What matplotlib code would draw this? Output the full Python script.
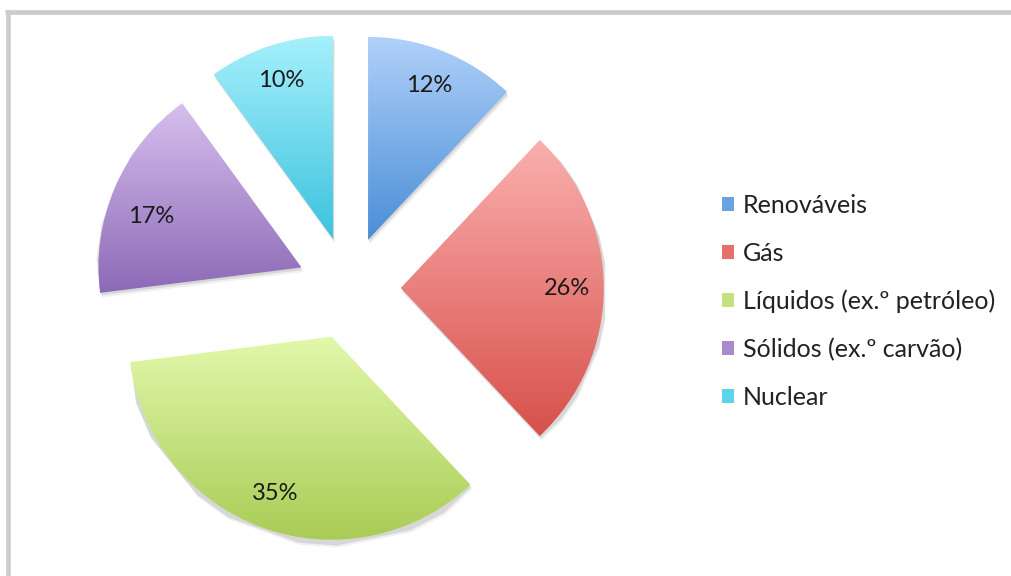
import matplotlib
matplotlib.use('Agg')
import matplotlib.pyplot as plt
import matplotlib.colors as mcolors
from matplotlib.lines import Line2D
from matplotlib.patches import Patch
import numpy as np

# data
categories = ['Renováveis', 'Gás', 'Líquidos (ex.º petróleo)', 'Sólidos (ex.º carvão)', 'Nuclear']
shares = [12, 26, 35, 17, 10]

# gradient colours for each slice (top -> bottom)
grad_top = ['#b0d1f9', '#fab0ae', '#e2f8ab', '#d6c0ee', '#a6f0fc']
grad_bottom = ['#4a8dd6', '#d8504b', '#a9cc55', '#8c69b6', '#3bc3de']
legend_colors = ['#6aa2e4', '#e6706c', '#c2e07e', '#a98bd0', '#5ed5ea']

W, H = 1011, 576
R_PX = 203.0          # pie radius in pixels
CX, CY = 349.0, 288.0  # pie centre in pixels (from top-left)

fig = plt.figure(figsize=(W / 100, H / 100), dpi=100)
fig.patch.set_facecolor('white')
ax = fig.add_axes([0, 0, 1, 1])

wedges, texts, autotexts = ax.pie(
    shares, startangle=90, counterclock=False, radius=1.0,
    explode=[0.255] * len(shares), autopct='%1.0f%%', pctdistance=0.82,
    textprops=dict(family='Lato', fontsize=17, color='#1a1a1a'),
    wedgeprops=dict(linewidth=0))

ax.set_aspect('equal', adjustable='box')
ax.axis('off')

# gradient fill + soft shadow for each wedge
grad = np.linspace(0, 1, 256).reshape(-1, 1)
for i, w in enumerate(wedges):
    path = w.get_path()
    ext = path.get_extents()
    # shadow
    for k, a in [(0.012, 0.10), (0.022, 0.06)]:
        sh = plt.Polygon(path.vertices + np.array([k * 0.4, -k]), closed=True,
                         facecolor='#000000', edgecolor='none', alpha=a, zorder=0.5)
        ax.add_patch(sh)
    cmap = mcolors.LinearSegmentedColormap.from_list('g%d' % i, [grad_top[i], grad_bottom[i]])
    im = ax.imshow(grad, cmap=cmap, extent=(ext.x0, ext.x1, ext.y0, ext.y1),
                   origin='upper', aspect='auto', interpolation='bilinear', zorder=1)
    im.set_clip_path(w)
    w.set_facecolor('none')
    w.set_zorder(1)

# the Sólidos label sits a little lower in the original
for t in autotexts:
    t.set_zorder(3)
x, y = autotexts[3].get_position()
autotexts[3].set_position((x + 0.01, y - 0.075))

ax.set_xlim(-CX / R_PX, (W - CX) / R_PX)
ax.set_ylim(-(H - CY) / R_PX, CY / R_PX)

# legend
handles = [Patch(facecolor=c, edgecolor='none') for c in legend_colors]
leg = fig.legend(handles, categories, loc='upper left', bbox_to_anchor=(722 / W, 1 - 194 / H),
                 frameon=False, prop=dict(family='Lato', size=18),
                 handlelength=0.48, handleheight=0.48, handletextpad=0.36,
                 labelspacing=0.99, borderpad=0, borderaxespad=0)
for t in leg.get_texts():
    t.set_color('#222222')

# chart border (only top and left edges visible)
fig.add_artist(Line2D([5 / W, 1], [1 - 11.5 / H, 1 - 11.5 / H], transform=fig.transFigure,
                      color='#cccccc', linewidth=3.4, solid_capstyle='butt'))
fig.add_artist(Line2D([7.5 / W, 7.5 / W], [1 - 9.5 / H, 0], transform=fig.transFigure,
                      color='#cccccc', linewidth=3.4, solid_capstyle='butt'))

fig.savefig('out.png', dpi=100, facecolor='white')
